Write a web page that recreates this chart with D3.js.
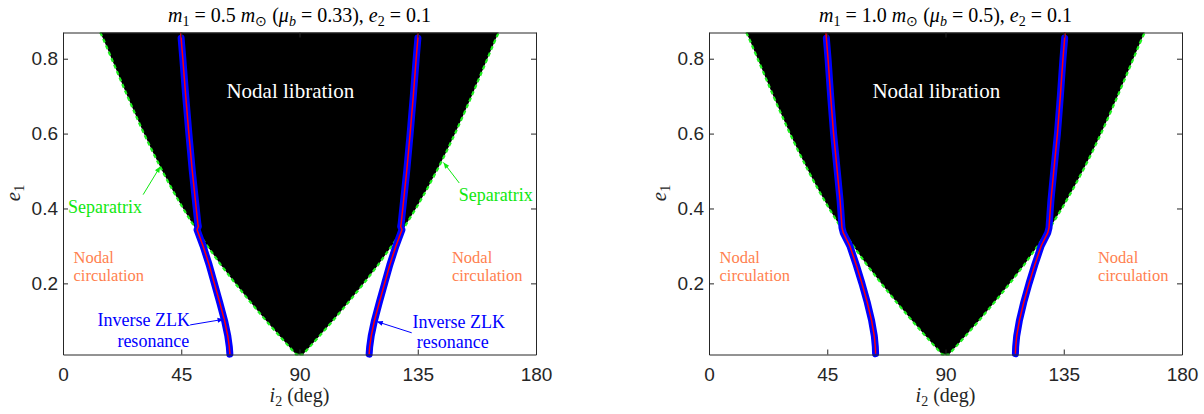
<!DOCTYPE html>
<meta charset="utf-8">
<script src="https://cdn.jsdelivr.net/npm/d3@7"></script>
<style>
  body { margin: 0; background: #fff; }
  .tick text { font-family: "Liberation Sans", Arial, sans-serif; font-size: 19px; fill: #262626; }
  .domain, .tick line { stroke: #262626; }
</style>
<div id="chart"></div>
<script>

// separatrix = left edge of the nodal libration region (right edge is 180 - i)
var sepE = [0.87, 0.85, 0.8, 0.75, 0.7, 0.65, 0.6, 0.55, 0.5, 0.45, 0.4, 0.35, 0.3, 0.25, 0.2, 0.15, 0.1, 0.05, 0.01];
var sepI = [14.2, 15.5, 18.5, 21.5, 24.5, 27.6, 30.8, 34.2, 37.8, 41.6, 45.7, 50.1, 54.9, 60.0, 65.5, 71.3, 77.3, 83.6, 88.7];

// inverse ZLK resonance, prograde branch (the retrograde one mirrors it at 180 - i)
var zlkE_a = [0.87, 0.855, 0.8, 0.7, 0.6, 0.5, 0.42, 0.36, 0.352, 0.343, 0.3, 0.25, 0.2, 0.15, 0.1, 0.06, 0.03, 0.011];
var zlkI_a = [44.8, 44.95, 45.6, 46.7, 47.9, 49.2, 50.4, 51.3, 51.5, 51.0, 53.3, 55.6, 57.6, 59.6, 61.5, 62.7, 63.3, 63.5];
var zlkE_b = [0.87, 0.855, 0.8, 0.7, 0.6, 0.5, 0.42, 0.36, 0.349, 0.335, 0.3, 0.25, 0.2, 0.15, 0.1, 0.06, 0.03, 0.012];
var zlkI_b = [44.5, 44.65, 45.3, 46.3, 47.4, 48.8, 49.9, 50.5, 50.6, 51.1, 53.6, 56.0, 58.2, 60.2, 61.9, 62.9, 63.3, 63.4];

var massLabel = ["0.5", "1.0"];
var muLabel = ["0.33", "0.5"];
var xTicks = [0, 45, 90, 135, 180];
var yTicks = [0.2, 0.4, 0.6, 0.8];

var W = 1204, H = 414;
var svg = d3.select("#chart").append("svg")
  .attr("width", W).attr("height", H)
  .style("font-family", "'Liberation Serif', 'Times New Roman', serif");

var panels = [
  {left: 63, right: 536, zE: zlkE_a, zI: zlkI_a, arrows: true},
  {left: 709, right: 1182, zE: zlkE_b, zI: zlkI_b, arrows: false}
];

panels.forEach(function(p, k) {
  var x = d3.scaleLinear().domain([0, 180]).range([p.left, p.right]);
  var y = d3.scaleLinear().domain([0.01, 0.87]).range([354.5, 32.5]);
  var g = svg.append("g");
  var line = d3.line().x(function(d) { return x(d[1]); }).y(function(d) { return y(d[0]); });

  var leftSep = sepE.map(function(e, i) { return [e, sepI[i]]; });
  var rightSep = leftSep.map(function(d) { return [d[0], 180 - d[1]]; }).reverse();

  // libration region
  g.append("path")
    .attr("d", line(leftSep.concat([[0.01, 90]]).concat(rightSep)) + "Z")
    .attr("fill", "#000");

  [leftSep.concat([[0.01, 90]]), [[0.01, 90]].concat(rightSep)].forEach(function(s) {
    g.append("path").attr("d", line(s))
      .attr("fill", "none").attr("stroke", "#1ef01e")
      .attr("stroke-width", 2.2).attr("stroke-dasharray", "4,3");
  });

  // resonance curves
  var pro = p.zE.map(function(e, i) { return [e, p.zI[i]]; });
  var retro = pro.map(function(d) { return [d[0], 180 - d[1]]; });
  [pro, retro].forEach(function(c) {
    g.append("path").attr("d", line(c.slice(1)))
      .attr("fill", "none").attr("stroke", "#0000ff")
      .attr("stroke-width", 7).attr("stroke-linejoin", "round").attr("stroke-linecap", "round");
    g.append("path").attr("d", line(c))
      .attr("fill", "none").attr("stroke", "#ff0000").attr("stroke-width", 1.5);
  });

  // axes box with inward ticks
  g.append("g").attr("transform", "translate(0," + y.range()[0] + ")")
    .call(d3.axisBottom(x).tickValues(xTicks).tickSizeInner(-5).tickSizeOuter(0).tickPadding(13));
  g.append("g").attr("transform", "translate(0," + y.range()[1] + ")")
    .call(d3.axisTop(x).tickValues(xTicks).tickSizeInner(-5).tickSizeOuter(0).tickFormat(""));
  g.append("g").attr("transform", "translate(" + p.left + ",0)")
    .call(d3.axisLeft(y).tickValues(yTicks).tickSizeInner(-5).tickSizeOuter(0).tickPadding(5).tickFormat(d3.format(".1f")));
  g.append("g").attr("transform", "translate(" + p.right + ",0)")
    .call(d3.axisRight(y).tickValues(yTicks).tickSizeInner(-5).tickSizeOuter(0).tickFormat(""));

  // title
  var cx = (p.left + p.right) / 2;
  var t = g.append("text").attr("x", cx).attr("y", 22).attr("text-anchor", "middle")
    .style("font-size", "20px").attr("fill", "#000");
  function part(s, it, sub) {
    var ts = t.append("tspan").text(s);
    if (it) ts.style("font-style", "italic");
    if (sub) ts.style("font-size", "14px").attr("dy", 4);
    return ts;
  }
  part("m", true); part("1", false, true);
  t.append("tspan").attr("dy", -4).text(" = " + massLabel[k] + " ");
  part("m", true); part("\u2299", false, true);
  t.append("tspan").attr("dy", -4).text(" (");
  part("\u03bc", true); part("b", true, true);
  t.append("tspan").attr("dy", -4).text(" = " + muLabel[k] + "), ");
  part("e", true); part("2", false, true);
  t.append("tspan").attr("dy", -4).text(" = 0.1");

  // axis labels
  var xl = g.append("text").attr("x", cx).attr("y", 402).attr("text-anchor", "middle")
    .style("font-size", "20px").attr("fill", "#262626");
  xl.append("tspan").style("font-style", "italic").text("i");
  xl.append("tspan").style("font-size", "14px").attr("dy", 4).text("2");
  xl.append("tspan").attr("dy", -4).text(" (deg)");
  var yl = g.append("text").attr("transform", "translate(" + (p.left - 43) + ",193) rotate(-90)")
    .attr("text-anchor", "middle").style("font-size", "21px").attr("fill", "#262626");
  yl.append("tspan").style("font-style", "italic").text("e");
  yl.append("tspan").style("font-size", "14px").attr("dy", 4).text("1");

  // annotations
  g.append("text").attr("x", x(86.5)).attr("y", y(0.695)).attr("text-anchor", "middle")
    .style("font-size", "21px").attr("fill", "#fff").text("Nodal libration");

  [4.0, 148.0].forEach(function(a) {
    g.append("text").attr("x", x(a)).attr("y", y(0.255)).style("font-size", "16.5px")
      .attr("fill", "#ff7f4f").text("Nodal");
    g.append("text").attr("x", x(a)).attr("y", y(0.206)).style("font-size", "16.5px")
      .attr("fill", "#ff7f4f").text("circulation");
  });

  if (!p.arrows) return;

  function arrow(x0, y0, x1, y1, col) {
    g.append("line").attr("x1", x(x0)).attr("y1", y(y0)).attr("x2", x(x1)).attr("y2", y(y1))
      .attr("stroke", col).attr("stroke-width", 1);
    var ang = Math.atan2(y(y1) - y(y0), x(x1) - x(x0));
    var L = 6, w = 2.5;
    var bx = x(x1) - L * Math.cos(ang), by = y(y1) - L * Math.sin(ang);
    g.append("path")
      .attr("d", "M" + x(x1) + "," + y(y1) +
        "L" + (bx - w * Math.sin(ang)) + "," + (by + w * Math.cos(ang)) +
        "L" + (bx + w * Math.sin(ang)) + "," + (by - w * Math.cos(ang)) + "Z")
      .attr("fill", col);
  }

  var green = "#10e810";
  g.append("text").attr("x", x(1.9)).attr("y", y(0.389)).style("font-size", "18px")
    .attr("fill", green).text("Separatrix");
  arrow(30.5, 0.437, 37.0, 0.512, green);
  g.append("text").attr("x", x(150.6)).attr("y", y(0.419)).style("font-size", "18px")
    .attr("fill", green).text("Separatrix");
  arrow(150.8, 0.468, 144.8, 0.523, green);

  var blue = "#0000ff";
  g.append("text").attr("x", x(13.1)).attr("y", y(0.086)).style("font-size", "18px")
    .attr("fill", blue).text("Inverse ZLK");
  g.append("text").attr("x", x(20.7)).attr("y", y(0.031)).style("font-size", "18px")
    .attr("fill", blue).text("resonance");
  arrow(48.4, 0.089, 61.1, 0.104, blue);
  g.append("text").attr("x", x(133.0)).attr("y", y(0.080)).style("font-size", "18px")
    .attr("fill", blue).text("Inverse ZLK");
  g.append("text").attr("x", x(134.6)).attr("y", y(0.027)).style("font-size", "18px")
    .attr("fill", blue).text("resonance");
  arrow(132.7, 0.068, 119.4, 0.098, blue);
});

</script>
